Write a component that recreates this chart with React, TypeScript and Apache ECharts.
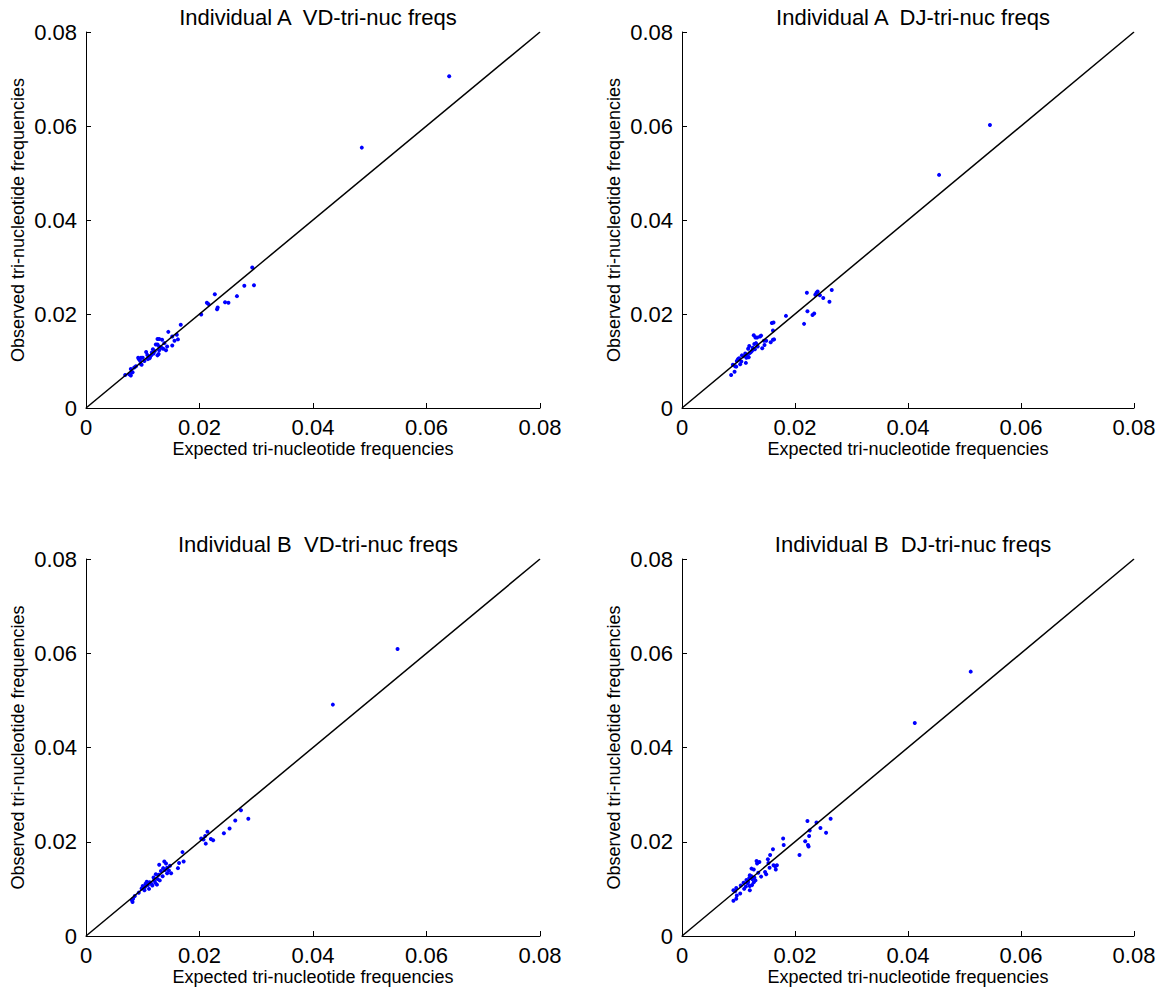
import React, { useEffect, useRef } from "react";
import * as echarts from "echarts";

const titles = [
  "Individual A  VD-tri-nuc freqs",
  "Individual A  DJ-tri-nuc freqs",
  "Individual B  VD-tri-nuc freqs",
  "Individual B  DJ-tri-nuc freqs",
];
const xAxisName = "Expected tri-nucleotide frequencies";
const yAxisName = "Observed tri-nucleotide frequencies";
const tickMax = 0.08;
const tickStep = 0.02;
const diagonal = [[0, 0], [0.08, 0.08]];

// [expected, observed]
const pointsAVD = [
  [0.064, 0.0706], [0.0486, 0.0554],
  [0.0293, 0.0299], [0.0279, 0.026], [0.0296, 0.0261], [0.0227, 0.0242], [0.0266, 0.0238],
  [0.0213, 0.0224], [0.0216, 0.0221], [0.0245, 0.0225], [0.0251, 0.0224], [0.0232, 0.0214],
  [0.0231, 0.021], [0.0203, 0.0199], [0.0167, 0.0177], [0.0145, 0.0162], [0.016, 0.0156],
  [0.0152, 0.0152], [0.0126, 0.0147], [0.0129, 0.0147], [0.0134, 0.0145], [0.0162, 0.0146],
  [0.0156, 0.0143], [0.0123, 0.0135], [0.0126, 0.0135], [0.0129, 0.0131], [0.0152, 0.0133],
  [0.0133, 0.0128], [0.0136, 0.0126], [0.0141, 0.0123], [0.0129, 0.0123], [0.0106, 0.0119],
  [0.0116, 0.0118], [0.0119, 0.0116], [0.0115, 0.0112], [0.0128, 0.0115], [0.0126, 0.0112],
  [0.0092, 0.0107], [0.0097, 0.0107], [0.01, 0.0107], [0.011, 0.0109], [0.0113, 0.0109],
  [0.0095, 0.0101], [0.0093, 0.0104], [0.0109, 0.0104], [0.0112, 0.0106], [0.0098, 0.0092],
  [0.0096, 0.0094], [0.0085, 0.0086], [0.0079, 0.0083], [0.0081, 0.0076], [0.0082, 0.0076],
  [0.0069, 0.007], [0.0076, 0.0072], [0.0079, 0.0069], [0.0138, 0.0138], [0.0118, 0.0125],
  [0.0103, 0.01], [0.0121, 0.0121], [0.0143, 0.0131], [0.0088, 0.0089], [0.0108, 0.0113],
];

const pointsADJ = [
  [0.0545, 0.0602], [0.0455, 0.0496],
  [0.0221, 0.0245], [0.0238, 0.0245], [0.024, 0.0248], [0.0236, 0.0241], [0.0265, 0.0251],
  [0.0244, 0.024], [0.025, 0.0234], [0.0261, 0.0226], [0.0222, 0.0206], [0.0234, 0.0201],
  [0.0231, 0.0198], [0.0216, 0.0179], [0.0184, 0.0196], [0.0159, 0.0181], [0.0162, 0.0182],
  [0.0161, 0.0165], [0.0127, 0.0155], [0.013, 0.015], [0.0133, 0.015], [0.014, 0.0154],
  [0.0138, 0.0152], [0.0161, 0.0145], [0.0163, 0.0146], [0.0157, 0.014], [0.0145, 0.0143],
  [0.0149, 0.0143], [0.0146, 0.0134], [0.0142, 0.0127], [0.0128, 0.0136], [0.0119, 0.0132],
  [0.0117, 0.0126], [0.0129, 0.0125], [0.0124, 0.0122], [0.0122, 0.0119], [0.0112, 0.0116],
  [0.0116, 0.0111], [0.0118, 0.0108], [0.0114, 0.0107], [0.0106, 0.0112], [0.0101, 0.0106],
  [0.0097, 0.01], [0.0099, 0.0104], [0.009, 0.0092], [0.0094, 0.0089], [0.0096, 0.0088],
  [0.0113, 0.0096], [0.0103, 0.0093], [0.0093, 0.0077], [0.0087, 0.007], [0.0125, 0.0128],
  [0.0109, 0.011], [0.0134, 0.0131], [0.012, 0.0117], [0.0105, 0.0099], [0.0131, 0.0138],
];

const pointsBVD = [
  [0.0549, 0.0609], [0.0435, 0.0491],
  [0.0273, 0.0267], [0.0286, 0.0249], [0.0263, 0.0245], [0.0253, 0.0228], [0.0243, 0.0218],
  [0.0214, 0.0221], [0.021, 0.0212], [0.0203, 0.0207], [0.0207, 0.0205], [0.022, 0.0206],
  [0.0224, 0.0203], [0.0211, 0.0196], [0.017, 0.0178], [0.0172, 0.0158], [0.0164, 0.0155],
  [0.0162, 0.0144], [0.0129, 0.0151], [0.0138, 0.0158], [0.0141, 0.0154], [0.0136, 0.0144],
  [0.0143, 0.0145], [0.0148, 0.0149], [0.015, 0.0133], [0.0143, 0.0133], [0.0135, 0.0127],
  [0.0123, 0.0131], [0.0128, 0.013], [0.0126, 0.0121], [0.013, 0.0118], [0.012, 0.0118],
  [0.0112, 0.0114], [0.0107, 0.0115], [0.0105, 0.0111], [0.01, 0.0106], [0.0104, 0.0104],
  [0.0115, 0.0111], [0.0117, 0.0107], [0.0125, 0.0109], [0.0103, 0.0097], [0.0111, 0.01],
  [0.0093, 0.0092], [0.0086, 0.0085], [0.0083, 0.0079], [0.0081, 0.0076], [0.0082, 0.0072],
  [0.0132, 0.0138], [0.0119, 0.0124], [0.0109, 0.0108], [0.0139, 0.014], [0.0146, 0.0139],
  [0.0122, 0.0113], [0.0098, 0.0101],
];

const pointsBDJ = [
  [0.0511, 0.0561], [0.0412, 0.0452],
  [0.0222, 0.0244], [0.0238, 0.0241], [0.0263, 0.0249], [0.0245, 0.0229], [0.0255, 0.0219],
  [0.0226, 0.0224], [0.0225, 0.0212], [0.0218, 0.0201], [0.0223, 0.0193], [0.0224, 0.019],
  [0.0208, 0.0172], [0.0179, 0.0207], [0.018, 0.0193], [0.0161, 0.0184], [0.0156, 0.0172],
  [0.0152, 0.0163], [0.0153, 0.0155], [0.0132, 0.0159], [0.0137, 0.0157], [0.0133, 0.0154],
  [0.0162, 0.015], [0.0165, 0.0148], [0.0168, 0.015], [0.0166, 0.0141], [0.0155, 0.0145],
  [0.0123, 0.0143], [0.0127, 0.0141], [0.0147, 0.0136], [0.0149, 0.0131], [0.014, 0.0126],
  [0.012, 0.0129], [0.0123, 0.0127], [0.0119, 0.0123], [0.0124, 0.0121], [0.013, 0.0118],
  [0.0114, 0.0119], [0.0117, 0.0115], [0.0109, 0.0113], [0.0127, 0.0114], [0.0124, 0.0108],
  [0.012, 0.0106], [0.0104, 0.0107], [0.0113, 0.0105], [0.011, 0.01], [0.012, 0.0097],
  [0.0096, 0.0102], [0.0091, 0.0097], [0.0094, 0.0095], [0.0103, 0.009], [0.0097, 0.0086],
  [0.0096, 0.0079], [0.0091, 0.0075], [0.0135, 0.0134], [0.0116, 0.0112], [0.0128, 0.0124],
];

const allPoints = [pointsAVD, pointsADJ, pointsBVD, pointsBDJ];

const gridBoxes = [
  { left: 86, top: 32, width: 454, height: 376 },
  { left: 682, top: 32, width: 452, height: 376 },
  { left: 86, top: 559, width: 454, height: 377 },
  { left: 682, top: 559, width: 452, height: 377 },
];

const FONT = "'Liberation Sans', Arial, Helvetica, sans-serif";

export default function App() {
  const ref = useRef<HTMLDivElement>(null);
  useEffect(() => {
    if (!ref.current) return;
    const chart = echarts.init(ref.current, null, { renderer: "svg" });
    const fmt = (v: number) => (Math.abs(v) < 1e-9 ? "0" : String(+v.toFixed(2)));
    const axisCommon = {
      type: "value" as const,
      min: 0,
      max: tickMax,
      interval: tickStep,
      nameLocation: "middle" as const,
      splitLine: { show: false },
      axisLine: { show: true, onZero: false, lineStyle: { color: "#000", width: 1 } },
      axisTick: { show: true, inside: true, length: 5, lineStyle: { color: "#000", width: 1 } },
      nameTextStyle: { color: "#000", fontSize: 18, fontFamily: FONT },
    };
    const option: any = {
      animation: false,
      backgroundColor: "#fff",
      title: gridBoxes.map((g, i) => ({
        text: titles[i],
        left: g.left + g.width / 2,
        top: i >= 2 ? 528 : 1,
        textAlign: "center",
        textStyle: { color: "#000", fontSize: 22, fontWeight: "normal", fontFamily: FONT },
      })),
      grid: gridBoxes.map((g) => ({ ...g, containLabel: false })),
      xAxis: gridBoxes.map((_, i) => ({
        ...axisCommon,
        gridIndex: i,
        name: xAxisName,
        nameGap: 32,
        axisLabel: { color: "#000", fontSize: 22, fontFamily: FONT, margin: 8, formatter: fmt },
      })),
      yAxis: gridBoxes.map((_, i) => ({
        ...axisCommon,
        gridIndex: i,
        name: yAxisName,
        nameGap: 59,
        axisLabel: { color: "#000", fontSize: 22, fontFamily: FONT, margin: 9, formatter: fmt },
      })),
      series: [
        ...gridBoxes.map((_, i) => ({
          type: "line",
          xAxisIndex: i,
          yAxisIndex: i,
          data: diagonal,
          symbol: "none",
          lineStyle: { color: "#000", width: 1.5 },
          silent: true,
        })),
        ...allPoints.map((pts, i) => ({
          type: "scatter",
          xAxisIndex: i,
          yAxisIndex: i,
          data: pts,
          symbol: "circle",
          symbolSize: 4,
          itemStyle: { color: "#0000ff", opacity: 1 },
        })),
      ],
    };
    chart.setOption(option);
    return () => chart.dispose();
  }, []);
  return (
    <div
      ref={ref}
      style={{ position: "absolute", left: 0, top: 0, width: 1163, height: 991 }}
    />
  );
}
